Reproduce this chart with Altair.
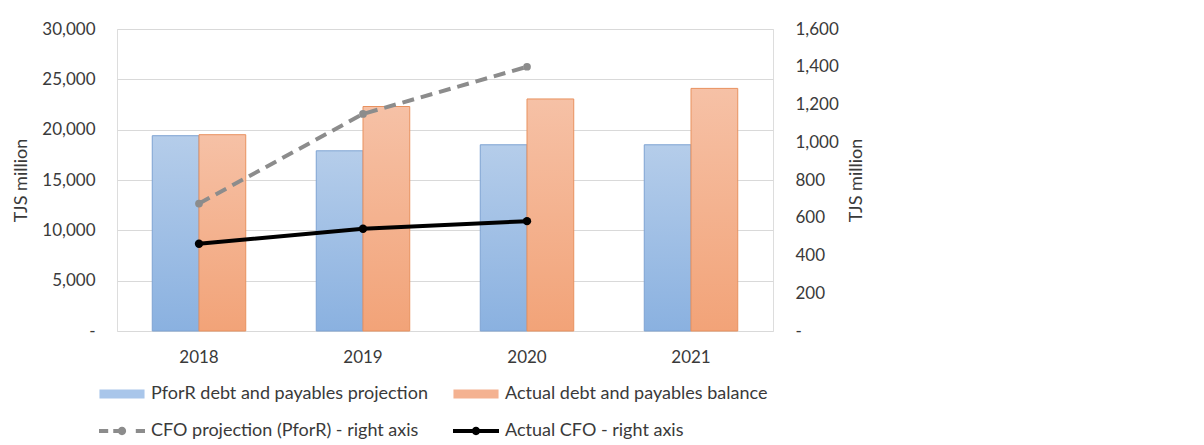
import altair as alt
import pandas as pd

# ---- data ----
years = ["2018", "2019", "2020", "2021"]
pforr_debt = [19400, 17900, 18500, 18500]
actual_debt = [19500, 22300, 23050, 24100]
cfo_projection = [675, 1150, 1400, None]
actual_cfo = [462, 542, 582, None]

S_PFORR = "PforR debt and payables projection"
S_ACTUAL = "Actual debt and payables balance"
S_CFOP = "CFO projection (PforR) - right axis"
S_CFOA = "Actual CFO - right axis"
series_order = [S_PFORR, S_ACTUAL, S_CFOP, S_CFOA]

bars_df = pd.DataFrame({
    "year": years * 2,
    "series": [S_PFORR] * 4 + [S_ACTUAL] * 4,
    "value": pforr_debt + actual_debt,
})
lines_df = pd.DataFrame({
    "year": years * 2,
    "series": [S_CFOP] * 4 + [S_CFOA] * 4,
    "value": cfo_projection + actual_cfo,
}).dropna()

FONT = "Lato"
TXT = "#3a3a3a"
NB = "\u00a0"


def grad(top, bottom):
    return {"gradient": "linear", "x1": 0, "y1": 0, "x2": 0, "y2": 1,
            "stops": [{"offset": 0, "color": top}, {"offset": 1, "color": bottom}]}


x_enc = alt.X("year:N", sort=years,
              scale=alt.Scale(paddingInner=0.43, paddingOuter=0.215),
              axis=alt.Axis(title=None, labelFontSize=17, labelPadding=18, ticks=False,
                            domain=False, labelAngle=0, labelColor=TXT, labelFont=FONT))
xoff = alt.XOffset("series:N", sort=[S_PFORR, S_ACTUAL],
                   scale=alt.Scale(domain=[S_PFORR, S_ACTUAL], paddingInner=0, paddingOuter=0))

y_left = alt.Y("value:Q",
               scale=alt.Scale(domain=[0, 30000], nice=False),
               axis=alt.Axis(values=list(range(0, 30001, 5000)),
                             labelExpr="datum.value == 0 ? '-" + NB * 5 + "' : format(datum.value, ',')",
                             title="TJS million", titleFontSize=18, titleFontWeight="normal",
                             titleColor=TXT, titleFont=FONT, titlePadding=11,
                             labelFontSize=17, labelColor=TXT, labelFont=FONT, labelPadding=22,
                             labelOverlap=False,
                             grid=True, gridColor="#D9D9D9", gridWidth=1,
                             ticks=False, domain=False))

bar_base = alt.Chart(bars_df).encode(x=x_enc, xOffset=xoff, y=y_left)
bar_p = bar_base.transform_filter(alt.datum.series == S_PFORR).mark_bar(
    fill=grad("#B5CDEA", "#8AB1E0"), stroke="#7EA3D2", strokeWidth=1)
bar_a = bar_base.transform_filter(alt.datum.series == S_ACTUAL).mark_bar(
    fill=grad("#F6C1A6", "#F2A378"), stroke="#E8915F", strokeWidth=1)

left = alt.layer(bar_p, bar_a)

y_right = alt.Y("value:Q",
                scale=alt.Scale(domain=[0, 1600], nice=False),
                axis=alt.Axis(orient="right", values=list(range(0, 1601, 200)),
                              tickCount=9,
                              labelExpr="datum.value == 0 ? '" + NB + "-' : format(datum.value, ',')",
                              title="TJS million", titleFontSize=18, titleFontWeight="normal",
                              titleColor=TXT, titleFont=FONT, titleAngle=270, titlePadding=27,
                              labelFontSize=17, labelColor=TXT, labelFont=FONT, labelPadding=22,
                              labelOverlap=False,
                              grid=False, ticks=False, domain=False))

color_scale = alt.Scale(domain=series_order,
                        range=["#A9C6EA", "#F4B291", "#8C8C8C", "#000000"])

# legend symbol paths (unit box -1..1)
P_BAR = "M-0.98,-0.2H0.98V0.2H-0.98Z"
CIRC = "M0.18,0A0.18,0.18,0,1,1,-0.18,0A0.18,0.18,0,1,1,0.18,0Z"
P_DASH = ("M-1,-0.085H-0.6V0.085H-1Z"
          "M-0.38,-0.085H-0.15V0.085H-0.38Z" + CIRC +
          "M0.6,-0.085H1V0.085H0.6Z")
P_SOLID = "M-1,-0.09H1V0.09H-1Z" + CIRC
shape_scale = alt.Scale(domain=series_order, range=[P_BAR, P_BAR, P_DASH, P_SOLID])

leg = alt.Legend(title=None, orient="none", legendX=-19, legendY=356, direction="horizontal",
                 columns=2, symbolSize=2116, labelFontSize=18, labelFont=FONT, labelColor=TXT,
                 labelOffset=5, columnPadding=24, rowPadding=19, clipHeight=18,
                 symbolOpacity=1, padding=0, labelLimit=500)

line_base = alt.Chart(lines_df).encode(x=alt.X("year:N", sort=years), y=y_right)
line_p = line_base.transform_filter(alt.datum.series == S_CFOP).mark_line(
    color="#8C8C8C", strokeWidth=4, strokeCap="butt", strokeDash=[12, 7],
    point=alt.OverlayMarkDef(filled=True, size=60, color="#8C8C8C"))
line_a = line_base.transform_filter(alt.datum.series == S_CFOA).mark_line(
    color="#000000", strokeWidth=4, strokeCap="butt",
    point=alt.OverlayMarkDef(filled=True, size=70, color="#000000"))

carrier = alt.Chart(lines_df).mark_point(filled=True, opacity=0).encode(
    x=alt.X("year:N", sort=years),
    y=y_right,
    color=alt.Color("series:N", scale=color_scale, legend=leg),
    shape=alt.Shape("series:N", scale=shape_scale, legend=leg),
)

right = alt.layer(line_p, line_a, carrier)

chart = alt.layer(left, right).resolve_scale(y="independent").properties(
    width=656, height=302,
    padding={"left": 4, "top": 12, "right": 5, "bottom": 5},
).configure_view(stroke=None).configure(font=FONT, background="white")

chart.save("out.html", embed_options={"renderer": "svg", "actions": False})
